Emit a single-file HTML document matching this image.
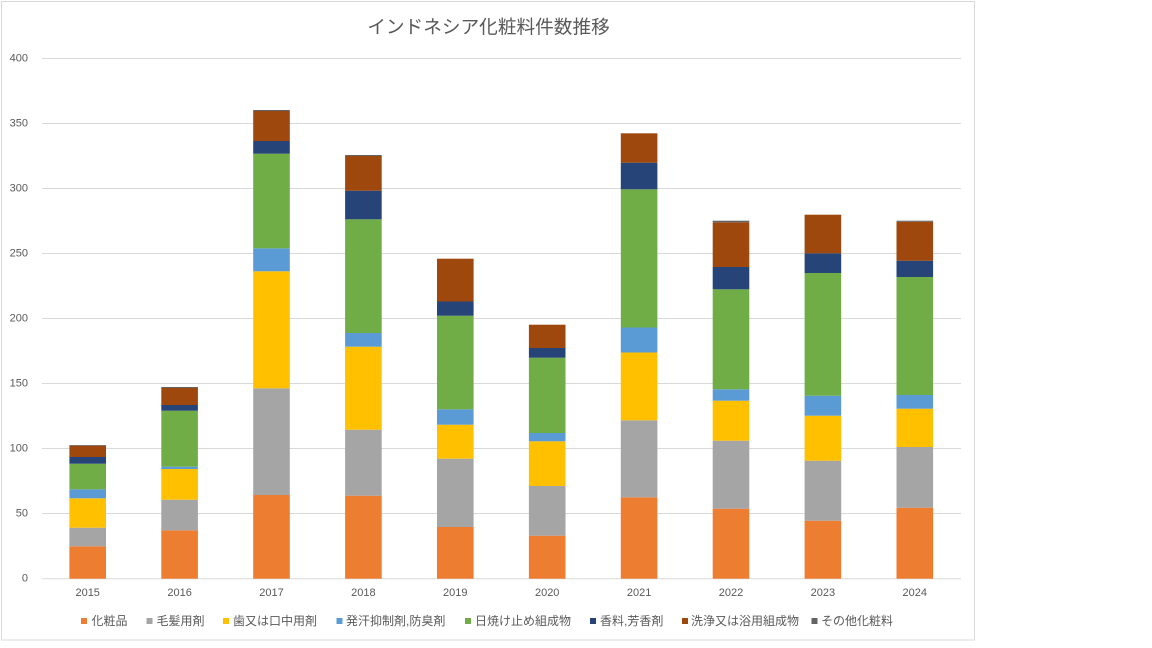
<!DOCTYPE html>
<html><head><meta charset="utf-8"><style>
html,body{margin:0;padding:0;background:#fff;}
svg{display:block;}
text{font-family:"Liberation Sans","Noto Sans CJK JP",sans-serif;fill:#595959;}
</style></head><body>
<svg width="1152" height="648" viewBox="0 0 1152 648" xmlns="http://www.w3.org/2000/svg">
<rect x="0" y="0" width="1152" height="648" fill="#fff"/>
<rect x="1.5" y="1.5" width="973" height="638.5" fill="#fff" stroke="#d9d9d9" stroke-width="1"/>
<text x="488.5" y="27" font-size="18.67" text-anchor="middle" dominant-baseline="central">インドネシア化粧料件数推移</text>
<g stroke="#d9d9d9" stroke-width="1">
<line x1="42" x2="961" y1="58.5" y2="58.5"/>
<line x1="42" x2="961" y1="123.5" y2="123.5"/>
<line x1="42" x2="961" y1="188.5" y2="188.5"/>
<line x1="42" x2="961" y1="253.5" y2="253.5"/>
<line x1="42" x2="961" y1="318.5" y2="318.5"/>
<line x1="42" x2="961" y1="383.5" y2="383.5"/>
<line x1="42" x2="961" y1="448.5" y2="448.5"/>
<line x1="42" x2="961" y1="513.5" y2="513.5"/>
</g>
<g font-size="11" text-anchor="end" dominant-baseline="central">
<text x="28" y="58.5">400</text>
<text x="28" y="123.5">350</text>
<text x="28" y="188.5">300</text>
<text x="28" y="253.5">250</text>
<text x="28" y="318.5">200</text>
<text x="28" y="383.5">150</text>
<text x="28" y="448.5">100</text>
<text x="28" y="513.5">50</text>
<text x="28" y="578.5">0</text>
</g>
<g id="bars"></g>
<line x1="42" x2="961" y1="578.7" y2="578.7" stroke="#d9d9d9" stroke-width="1"/>
<g font-size="11" text-anchor="middle" dominant-baseline="central">
<text x="87.7" y="593">2015</text>
<text x="179.6" y="593">2016</text>
<text x="271.5" y="593">2017</text>
<text x="363.4" y="593">2018</text>
<text x="455.3" y="593">2019</text>
<text x="547.2" y="593">2020</text>
<text x="639.1" y="593">2021</text>
<text x="731" y="593">2022</text>
<text x="822.9" y="593">2023</text>
<text x="914.8" y="593">2024</text>
</g>
<g font-size="12" dominant-baseline="central">
<rect x="81" y="618" width="6" height="6" fill="#ED7D31"/><text x="91.5" y="621">化粧品</text>
<rect x="146.5" y="618" width="6" height="6" fill="#A5A5A5"/><text x="156.5" y="621">毛髪用剤</text>
<rect x="223" y="618" width="6" height="6" fill="#FFC000"/><text x="233" y="621">歯又は口中用剤</text>
<rect x="336.5" y="618" width="6" height="6" fill="#5B9BD5"/><text x="346" y="621">発汗抑制剤,防臭剤</text>
<rect x="465" y="618" width="6" height="6" fill="#70AD47"/><text x="475" y="621">日焼け止め組成物</text>
<rect x="590" y="618" width="6" height="6" fill="#264478"/><text x="600" y="621">香料,芳香剤</text>
<rect x="682" y="618" width="6" height="6" fill="#9E480E"/><text x="691" y="621">洗浄又は浴用組成物</text>
<rect x="811.5" y="618" width="6" height="6" fill="#636363"/><text x="821" y="621">その他化粧料</text>
</g>
<g>
<!-- 2015 -->
<rect x="69.4" y="546.3" width="36.6" height="32.4" fill="#ED7D31"/>
<rect x="69.4" y="527.7" width="36.6" height="18.6" fill="#A5A5A5"/>
<rect x="69.4" y="498.3" width="36.6" height="29.4" fill="#FFC000"/>
<rect x="69.4" y="489.3" width="36.6" height="9" fill="#5B9BD5"/>
<rect x="69.4" y="463.7" width="36.6" height="25.6" fill="#70AD47"/>
<rect x="69.4" y="457" width="36.6" height="6.7" fill="#264478"/>
<rect x="69.4" y="445.7" width="36.6" height="11.3" fill="#9E480E"/>
<rect x="69.4" y="445" width="36.6" height="0.7" fill="#636363"/>
<!-- 2016 -->
<rect x="161.3" y="530.3" width="36.6" height="48.4" fill="#ED7D31"/>
<rect x="161.3" y="499.7" width="36.6" height="30.6" fill="#A5A5A5"/>
<rect x="161.3" y="469" width="36.6" height="30.7" fill="#FFC000"/>
<rect x="161.3" y="466.7" width="36.6" height="2.3" fill="#5B9BD5"/>
<rect x="161.3" y="410.7" width="36.6" height="56" fill="#70AD47"/>
<rect x="161.3" y="405" width="36.6" height="5.7" fill="#264478"/>
<rect x="161.3" y="388" width="36.6" height="17" fill="#9E480E"/>
<rect x="161.3" y="387" width="36.6" height="1" fill="#636363"/>
<!-- 2017 -->
<rect x="253.2" y="495" width="36.6" height="83.7" fill="#ED7D31"/>
<rect x="253.2" y="388.3" width="36.6" height="106.7" fill="#A5A5A5"/>
<rect x="253.2" y="271.3" width="36.6" height="117" fill="#FFC000"/>
<rect x="253.2" y="248.3" width="36.6" height="23" fill="#5B9BD5"/>
<rect x="253.2" y="153.7" width="36.6" height="94.6" fill="#70AD47"/>
<rect x="253.2" y="141" width="36.6" height="12.7" fill="#264478"/>
<rect x="253.2" y="111" width="36.6" height="30" fill="#9E480E"/>
<rect x="253.2" y="110" width="36.6" height="1" fill="#636363"/>
<!-- 2018 -->
<rect x="345.1" y="495.7" width="36.6" height="83" fill="#ED7D31"/>
<rect x="345.1" y="429.7" width="36.6" height="66" fill="#A5A5A5"/>
<rect x="345.1" y="346.7" width="36.6" height="83" fill="#FFC000"/>
<rect x="345.1" y="333" width="36.6" height="13.7" fill="#5B9BD5"/>
<rect x="345.1" y="219.3" width="36.6" height="113.7" fill="#70AD47"/>
<rect x="345.1" y="190.7" width="36.6" height="28.6" fill="#264478"/>
<rect x="345.1" y="156" width="36.6" height="34.7" fill="#9E480E"/>
<rect x="345.1" y="155" width="36.6" height="1" fill="#636363"/>
<!-- 2019 -->
<rect x="437" y="527" width="36.6" height="51.7" fill="#ED7D31"/>
<rect x="437" y="458.7" width="36.6" height="68.3" fill="#A5A5A5"/>
<rect x="437" y="424.7" width="36.6" height="34" fill="#FFC000"/>
<rect x="437" y="409.3" width="36.6" height="15.4" fill="#5B9BD5"/>
<rect x="437" y="315.7" width="36.6" height="93.6" fill="#70AD47"/>
<rect x="437" y="301.5" width="36.6" height="14.2" fill="#264478"/>
<rect x="437" y="258.7" width="36.6" height="42.8" fill="#9E480E"/>
<!-- 2020 -->
<rect x="528.9" y="535.7" width="36.6" height="43" fill="#ED7D31"/>
<rect x="528.9" y="486" width="36.6" height="49.7" fill="#A5A5A5"/>
<rect x="528.9" y="441.3" width="36.6" height="44.7" fill="#FFC000"/>
<rect x="528.9" y="433" width="36.6" height="8.3" fill="#5B9BD5"/>
<rect x="528.9" y="357.7" width="36.6" height="75.3" fill="#70AD47"/>
<rect x="528.9" y="348" width="36.6" height="9.7" fill="#264478"/>
<rect x="528.9" y="324.7" width="36.6" height="23.3" fill="#9E480E"/>
<!-- 2021 -->
<rect x="620.8" y="497.3" width="36.6" height="81.4" fill="#ED7D31"/>
<rect x="620.8" y="420.3" width="36.6" height="77" fill="#A5A5A5"/>
<rect x="620.8" y="352.5" width="36.6" height="67.8" fill="#FFC000"/>
<rect x="620.8" y="327.5" width="36.6" height="25" fill="#5B9BD5"/>
<rect x="620.8" y="189.3" width="36.6" height="138.2" fill="#70AD47"/>
<rect x="620.8" y="162.7" width="36.6" height="26.6" fill="#264478"/>
<rect x="620.8" y="133.3" width="36.6" height="29.4" fill="#9E480E"/>
<!-- 2022 -->
<rect x="712.7" y="508.7" width="36.6" height="70" fill="#ED7D31"/>
<rect x="712.7" y="440.7" width="36.6" height="68" fill="#A5A5A5"/>
<rect x="712.7" y="400.7" width="36.6" height="40" fill="#FFC000"/>
<rect x="712.7" y="389.3" width="36.6" height="11.4" fill="#5B9BD5"/>
<rect x="712.7" y="289.3" width="36.6" height="100" fill="#70AD47"/>
<rect x="712.7" y="267" width="36.6" height="22.3" fill="#264478"/>
<rect x="712.7" y="222.3" width="36.6" height="44.7" fill="#9E480E"/>
<rect x="712.7" y="220.7" width="36.6" height="1.6" fill="#636363"/>
<!-- 2023 -->
<rect x="804.6" y="520.7" width="36.6" height="58" fill="#ED7D31"/>
<rect x="804.6" y="460.7" width="36.6" height="60" fill="#A5A5A5"/>
<rect x="804.6" y="415.7" width="36.6" height="45" fill="#FFC000"/>
<rect x="804.6" y="395.7" width="36.6" height="20" fill="#5B9BD5"/>
<rect x="804.6" y="273" width="36.6" height="122.7" fill="#70AD47"/>
<rect x="804.6" y="253.3" width="36.6" height="19.7" fill="#264478"/>
<rect x="804.6" y="214.7" width="36.6" height="38.6" fill="#9E480E"/>
<!-- 2024 -->
<rect x="896.5" y="507.7" width="36.6" height="71" fill="#ED7D31"/>
<rect x="896.5" y="447" width="36.6" height="60.7" fill="#A5A5A5"/>
<rect x="896.5" y="408.7" width="36.6" height="38.3" fill="#FFC000"/>
<rect x="896.5" y="395" width="36.6" height="13.7" fill="#5B9BD5"/>
<rect x="896.5" y="277" width="36.6" height="118" fill="#70AD47"/>
<rect x="896.5" y="260.7" width="36.6" height="16.3" fill="#264478"/>
<rect x="896.5" y="221.7" width="36.6" height="39" fill="#9E480E"/>
<rect x="896.5" y="220.7" width="36.6" height="1" fill="#636363"/>
</g>
</svg>
</body></html>
